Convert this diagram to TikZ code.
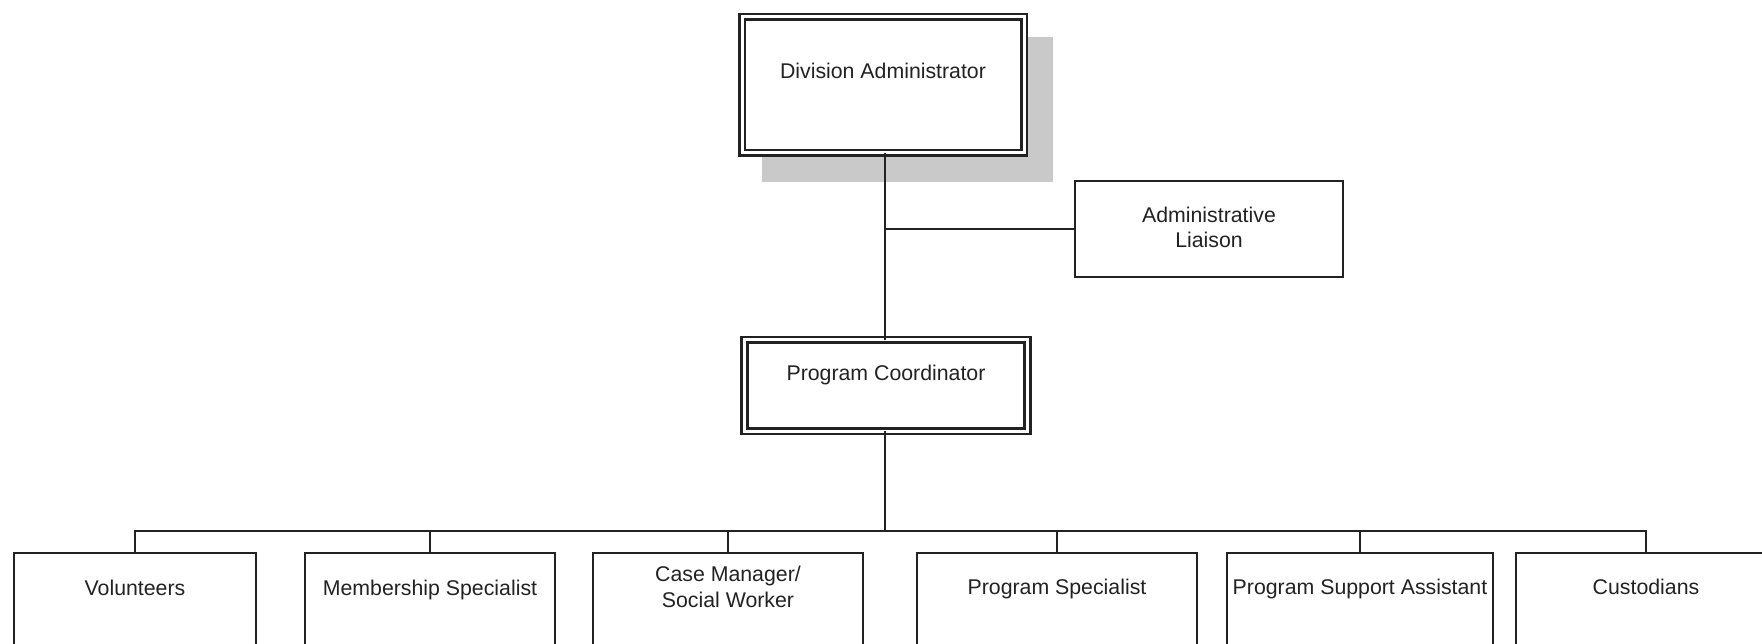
\documentclass[tikz,border=0pt]{standalone}
\usepackage{fontspec}
\setmainfont{Liberation Sans}
\definecolor{ink}{HTML}{222222}
\definecolor{shadowgray}{HTML}{C9C9C9}
\begin{document}
\begin{tikzpicture}[x=1pt,y=-1pt,
  every node/.style={inner sep=0pt, outer sep=0pt},
  lbl/.style={anchor=base, align=center, text=ink, font=\fontsize{21.3}{25.5}\selectfont},
  dbox/.style={draw=ink, fill=white, line width=2.6pt, double=white, double distance=3pt},
  sbox/.style={draw=ink, fill=white, line width=2.6pt},
  wire/.style={draw=ink, line width=2.2pt}]
\useasboundingbox (0,0) rectangle (1762,644);
\clip (0,0) rectangle (1762,644);
% shadow
\fill[shadowgray] (762,37) rectangle (1053,182);
% top boxes
\node[dbox, minimum width=282pt, minimum height=136pt] (da) at (883,85) {};
\node[lbl] (da-t) at (883,79) {Division Administrator};
\node[sbox, minimum width=268pt, minimum height=96pt] (al) at (1209,229) {};
\node[lbl] (al-t) at (1209,248) {Administrative\\Liaison};
\node[dbox, minimum width=283pt, minimum height=91pt] (pc) at (886,385.5) {};
\node[lbl] (pc-t) at (886,380) {Program Coordinator};
% bottom boxes (cut by lower edge)
\node[sbox, minimum width=242pt, minimum height=150pt, anchor=north] (vol) at (135,553) {};
\node[sbox, minimum width=250pt, minimum height=150pt, anchor=north] (mem) at (430,553) {};
\node[sbox, minimum width=270pt, minimum height=150pt, anchor=north] (cas) at (728,553) {};
\node[sbox, minimum width=280pt, minimum height=150pt, anchor=north] (ps) at (1057,553) {};
\node[sbox, minimum width=266pt, minimum height=150pt, anchor=north] (psa) at (1360,553) {};
\node[sbox, minimum width=260pt, minimum height=150pt, anchor=north] (cus) at (1646,553) {};
\node[lbl] (vol-t) at (135,595) {Volunteers};
\node[lbl] (mem-t) at (430,595) {Membership Specialist};
\node[lbl] (cas-t) at (728,607) {Case Manager/\\Social Worker};
\node[lbl] (ps-t) at (1057,594) {Program Specialist};
\node[lbl] (psa-t) at (1360,594) {Program Support Assistant};
\node[lbl] (cus-t) at (1646,594) {Custodians};
% connectors
\coordinate (j) at (885,229);
\coordinate (bus) at (885,531);
\draw[wire] (da.south -| j) -- (pc.north -| j);
\draw[wire] (j) -- (al.west);
\draw[wire] (pc.south -| bus) -- (bus);
\draw[wire] (vol.north) |- (bus) -| (cus.north);
\draw[wire] (mem.north) -- (mem.north |- bus);
\draw[wire] (cas.north) -- (cas.north |- bus);
\draw[wire] (ps.north) -- (ps.north |- bus);
\draw[wire] (psa.north) -- (psa.north |- bus);
\end{tikzpicture}
\end{document}
